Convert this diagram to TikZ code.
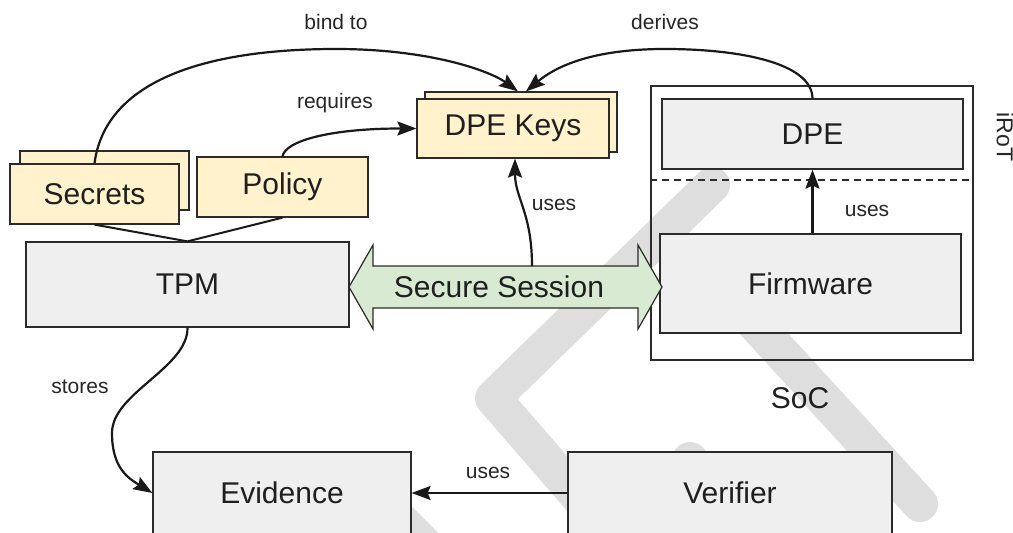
\documentclass[tikz,border=0pt]{standalone}
\usepackage{fontspec}
\setmainfont{Liberation Sans}
\usepackage{tikz}
\usetikzlibrary{arrows.meta,positioning,calc}
\definecolor{dgGrey}{HTML}{EFEFEF}
\definecolor{dgYellow}{HTML}{FFF2CC}
\definecolor{dgGreen}{HTML}{D9EAD3}
\definecolor{dgLine}{HTML}{2B2B2B}
\definecolor{dgMark}{HTML}{DEDEDE}
\tikzset{
  dgBox/.style={draw=dgLine, fill=dgGrey, line width=1.2pt, inner sep=0pt,
    font=\fontsize{30}{34}\selectfont, text=black!88},
  dgKey/.style={dgBox, fill=dgYellow},
  dgSoC/.style={draw=dgLine, line width=1.2pt, inner sep=0pt},
  dgSess/.style={draw=dgLine, fill=dgGreen, line width=1.2pt, line join=miter},
  dgText/.style={font=\fontsize{30}{34}\selectfont, text=black!88, inner sep=0pt},
  %% Connectors
  dgmsg/.style={-{Stealth[length=19pt,width=14pt,inset=3pt]}, line width=2.2pt, draw=black!90},
  dglink/.style={line width=2pt, draw=black!90},
  dglabel/.style={font=\fontsize{21}{24}\selectfont, text=black!85, inner sep=0pt},
  %% Watermark strokes
  dgmark/.style={draw=dgMark, line width=36pt, line cap=round, line join=round},
}

\begin{document}
\begin{tikzpicture}[x=1pt, y=1pt]
\useasboundingbox (0,0) rectangle (1013,533);
\clip (0,0) rectangle (1013,533);

%% Watermark
\draw[dgmark] (712,348) -- (493,135) -- (610,0);
\draw[dgmark] (724,243) -- (920,29);
\draw[dgmark] (690,73) -- (740,13);
\draw[dgmark] (395,18) -- (455,-42);

%% Secrets, Policy, Keys
\node[dgKey, minimum width=169pt, minimum height=59pt] (secB) at (104.5,352.5) {};
\node[dgKey, minimum width=169pt, minimum height=60pt] (secF) at (94.5,339) {Secrets};
\node[dgKey, minimum width=171pt, minimum height=60pt] (pol)  at (282.5,346) {Policy};
\node[dgKey, minimum width=192pt, minimum height=60pt] (keysB) at (521,411) {};
\node[dgKey, minimum width=192pt, minimum height=59pt] (keysF) at (513,404.5) {DPE Keys};

%% Main blocks
\node[dgBox, minimum width=323pt, minimum height=85pt] (tpm) at (187.5,248.5) {TPM};
\node[dgSoC, minimum width=322pt, minimum height=274pt] (soc) at (812,310) {};
\node[dgBox, minimum width=301pt, minimum height=70pt] (dpe) at (812.5,399) {DPE};
\node[dgBox, minimum width=301pt, minimum height=99pt] (fw)  at (810.5,249.5) {Firmware};
\node[dgBox, minimum width=258pt, minimum height=82pt] (ev)  at (282,40) {Evidence};
\node[dgBox, minimum width=324pt, minimum height=82pt] (ver) at (730,40) {Verifier};

%% Secure session (double arrow)
\draw[dgSess] (349,246) -- (373,288) -- (373,267) -- (638,267) -- (638,288) -- (662,246)
  -- (638,204) -- (638,225) -- (373,225) -- (373,204) -- cycle;
\node[dgText] (sess) at (499,246) {Secure Session};
\coordinate (sessTop) at (532,267);

\draw[dashed, line width=1.2pt, draw=dgLine, dash pattern=on 7pt off 5pt]
  (soc.west |- 0,353) -- (soc.east |- 0,353);
\node[dgText] (socT) at (800,135) {SoC};
\node[dglabel, font=\fontsize{23}{26}\selectfont, rotate=-90] (irot) at (1005,396) {iRoT};

%% Arrows
\draw[dglink] (secF.south) -- (tpm.north) -- (pol.south);
\draw[dgmsg] (secF.north) .. controls (105,450) and (200,484) .. (336,484)
  .. controls (430,484) and (490,462) .. ([xshift=-3pt]keysB.north);
\draw[dgmsg] (dpe.north) .. controls (812,470) and (740,484) .. (665,484)
  .. controls (600,484) and (560,470) .. ([xshift=5pt]keysB.north);
\draw[dgmsg] (pol.north) .. controls (285,392) and (330,404.5) .. (keysF.west);
\draw[dgmsg] (sessTop) .. controls (532,320) and (515,335) .. ([xshift=2pt]keysF.south);
\draw[dgmsg] (dpe.south |- fw.north) -- (dpe.south);
\draw[dgmsg] (tpm.south) .. controls (188,165) and (112,140) .. (112,100)
  .. controls (112,65) and (128,55) .. (ev.west);
\draw[dgmsg] (ver.west) -- (ev.east);

%% Labels
\node[dglabel] (lBind)  at (336,511) {bind to};
\node[dglabel] (lDer)   at (665,511) {derives};
\node[dglabel] (lReq)   at (335,430) {requires};
\node[dglabel] (lUseK)  at (554,328) {uses};
\node[dglabel] (lUseD)  at (867,322) {uses};
\node[dglabel] (lStore) at (80,146)  {stores};
\node[dglabel] (lUseE)  at (488,60)  {uses};

\end{tikzpicture}
\end{document}
